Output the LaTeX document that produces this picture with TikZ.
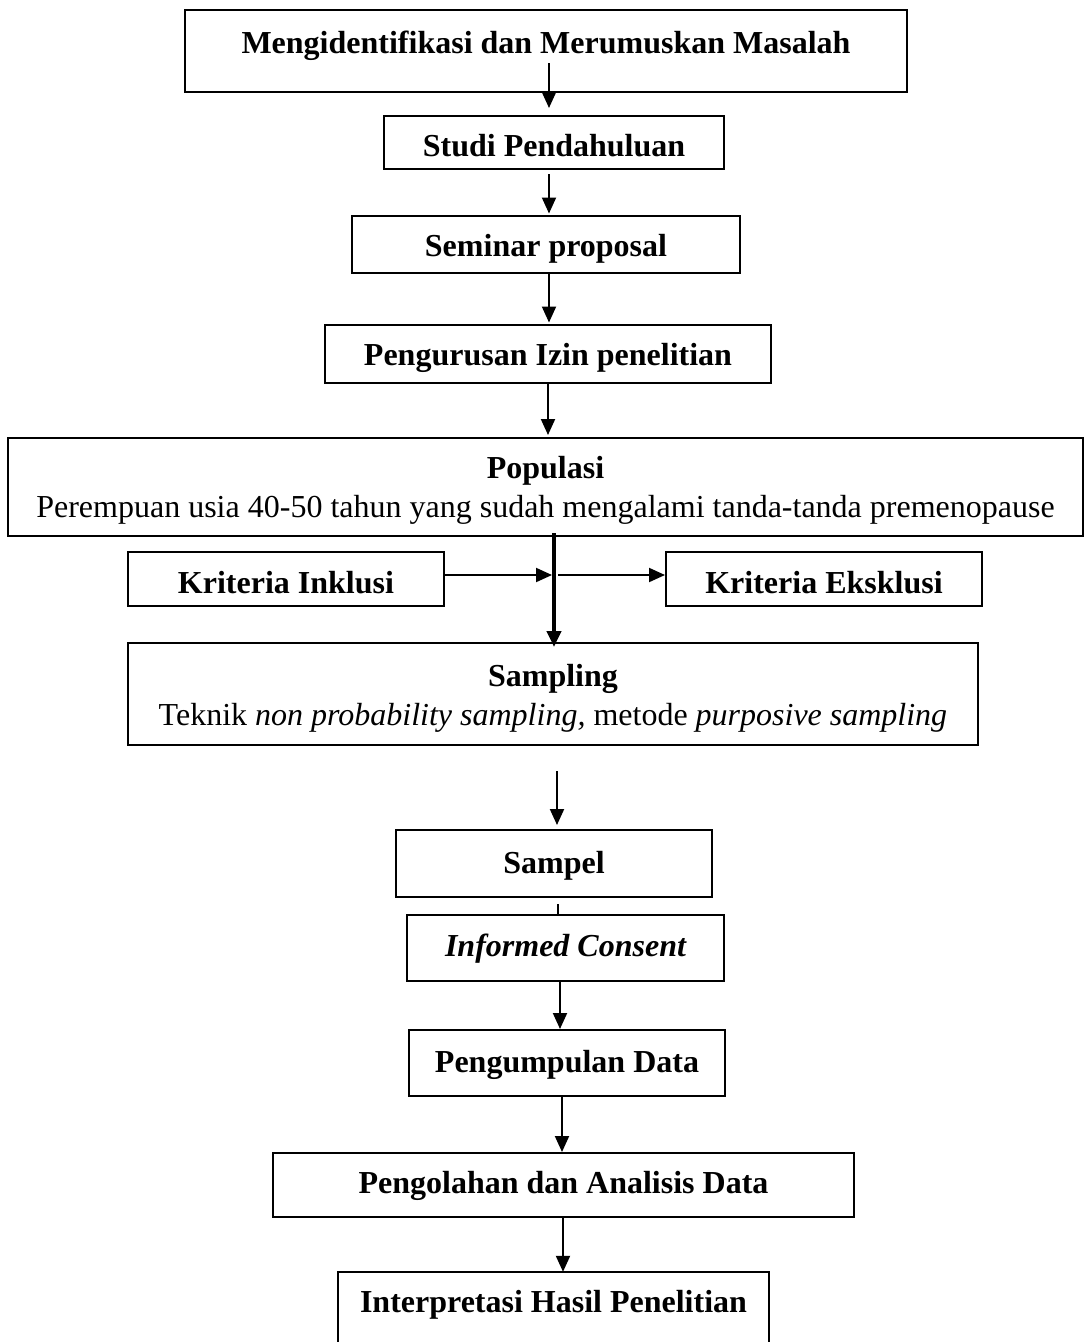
\documentclass[tikz,border=0pt]{standalone}
\usepackage{fontspec}
\setmainfont{Liberation Serif}
\usetikzlibrary{arrows.meta,calc}
\begin{document}
\begin{tikzpicture}[x=1pt,y=-1pt,
  font=\fontsize{32}{39}\selectfont,
  box/.style={draw, line width=2pt, inner sep=0pt, align=center, font=\fontsize{32}{39}\selectfont\bfseries},
  plain/.style={draw=none, inner sep=0pt, align=center, font=\fontsize{32}{39}\selectfont\bfseries},
  bsl/.style={text height=#1, text depth=0pt},
  arr/.style={line width=2pt, -{Triangle[length=16pt,width=14pt]}},
  thick arr/.style={line width=4pt, -{Triangle[length=16pt,width=14pt]}},
  link/.style={line width=2pt}]
\useasboundingbox (0,0) rectangle (1085,1342);
\clip (0,0) rectangle (1085,1342);
\fill[white] (0,0) rectangle (1085,1342);

\node[box, minimum width=722pt, minimum height=82pt, text height=21pt, text depth=16pt] (n1) at (546,51) {Mengidentifikasi dan Merumuskan Masalah};
\node[box, bsl=27pt, minimum width=340pt, minimum height=53pt] (n2) at (554,142.5) {Studi Pendahuluan};
\node[box, bsl=24pt, minimum width=388pt, minimum height=57pt] (n3) at (546,244) {Seminar proposal};
\node[box, bsl=23pt, minimum width=446pt, minimum height=58pt] (n4) at (548,353.5) {Pengurusan Izin penelitian};
\node[box, text height=62.5pt, text depth=2pt, minimum width=1075pt, minimum height=98pt] (pop) at (545.5,487) {Populasi\\ \mdseries Perempuan usia 40-50 tahun yang sudah mengalami tanda-tanda premenopause};
\node[box, bsl=28pt, minimum width=316pt, minimum height=54pt] (inc) at (286,579) {Kriteria Inklusi};
\node[box, bsl=28pt, minimum width=316pt, minimum height=54pt] (exc) at (824,579) {Kriteria Eksklusi};
\node[box, text height=64.5pt, text depth=2pt, minimum width=850pt, minimum height=102pt] (samp) at (553,694) {Sampling\\ \mdseries Teknik \textit{non probability sampling,} metode \textit{purposive sampling}};
\node[box, bsl=19pt, minimum width=316pt, minimum height=67pt] (sampel) at (554,863.5) {Sampel};
\node[box, bsl=17pt, minimum width=317pt, minimum height=66pt] (ic) at (565.5,948) {\itshape Informed Consent};
\node[box, bsl=18pt, minimum width=316pt, minimum height=66pt] (pd) at (567,1063) {Pengumpulan Data};
\node[box, bsl=16pt, minimum width=581pt, minimum height=64pt] (pad) at (563.5,1185) {Pengolahan dan Analisis Data};
\node[plain, bsl=24pt, minimum width=431pt, minimum height=56pt] (ihp) at (553.5,1300) {Interpretasi Hasil Penelitian};
\draw[line width=2pt] ($(ihp.south west)+(0,60)$) -- (ihp.north west) -- (ihp.north east) -- ($(ihp.south east)+(0,60)$);

\draw[arr] ($(n1.south)+(3,-30)$) -- ($(n2.north)+(-5,-7)$);
\draw[arr] ($(n2.south)+(-5,4)$) -- ($(n3.north)+(3,-1)$);
\draw[arr] ($(n3.south)+(3,0)$) -- ($(n4.north)+(1,-1)$);
\draw[arr] (n4.south) -- ($(pop.north)+(2.5,-2)$);
\draw[thick arr] ($(pop.south)+(8.5,-4)$) -- ($(samp.north)+(1,5)$);
\draw[arr] ($(inc.east)+(0,-4)$) -- ($(inc.east)+(107,-4)$);
\draw[arr] ($(exc.west)+(-107,-4)$) -- ($(exc.west)+(0,-4)$);
\draw[arr] ($(samp.south)+(4,25)$) -- ($(sampel.north)+(3,-4)$);
\draw[link] ($(sampel.south)+(4,6)$) -- ($(ic.north)+(-7.5,0)$);
\draw[arr] ($(ic.south)+(-5.5,0)$) -- ($(pd.north)+(-7,0)$);
\draw[arr] ($(pd.south)+(-5,0)$) -- ($(pad.north)+(-1.5,0)$);
\draw[arr] ($(pad.south)+(-0.5,0)$) -- ($(ihp.north)+(9.5,0)$);
\end{tikzpicture}
\end{document}
